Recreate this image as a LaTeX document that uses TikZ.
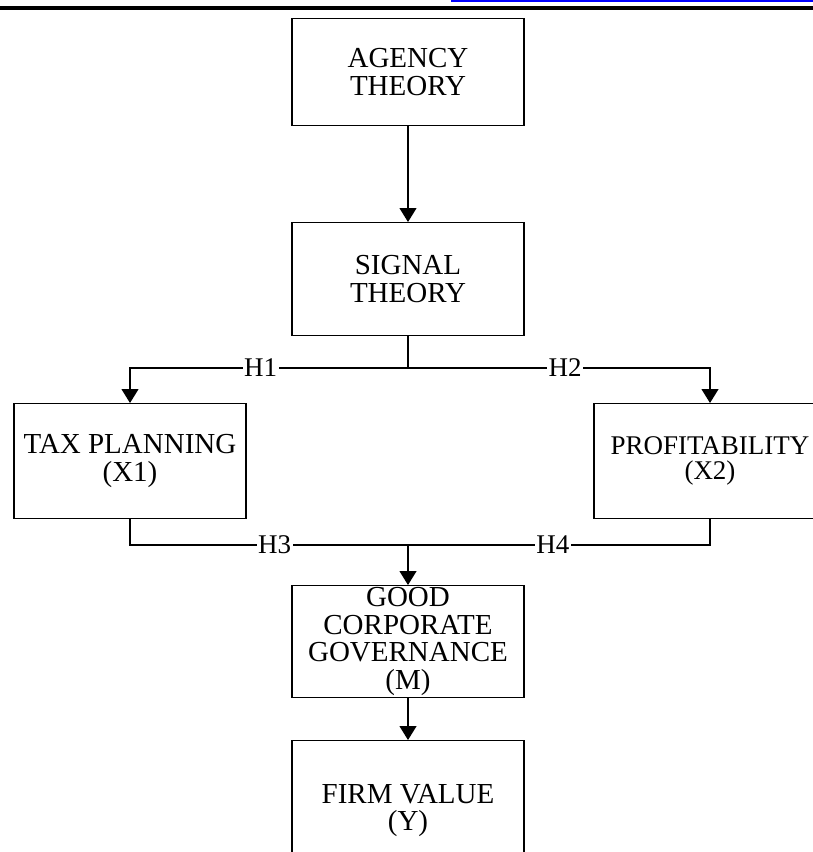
\documentclass[tikz,border=0pt]{standalone}
\usepackage{fontspec}
\setmainfont{Liberation Serif}
\usetikzlibrary{arrows.meta}

\begin{document}
\begin{tikzpicture}[x=1pt,y=-1pt,line width=1.2pt,>={Triangle[length=14pt,width=17pt]},
  box/.style={draw,minimum width=232pt,inner sep=0pt,anchor=north,align=center,
    font=\fontsize{29}{27.5}\selectfont},
  hlab/.style={fill=white,inner sep=1.5pt,font=\fontsize{27}{27}\selectfont}]
% page frame (top rule and cut-off link)
\useasboundingbox (0,0) rectangle (813,852);
\clip (0,0) rectangle (813,852);
\draw[line width=3.5pt] (0,8) -- (813,8);
\draw[blue,line width=1.5pt] (451,1) -- (813,1);
% theory boxes
\node[box,minimum height=107pt] (agency) at (408,18) {AGENCY\\THEORY};
\node[box,minimum height=113pt] (signal) at (408,222) {SIGNAL\\THEORY};
% variables
\node[box,minimum height=115pt] (tax) at (130,403) {TAX PLANNING\\(X1)};
\node[box,minimum height=115pt,font=\fontsize{27}{25}\selectfont] (profit) at (710,403) {PROFITABILITY\\(X2)};
\node[box,minimum height=112pt] (good) at (408,585) {GOOD\\CORPORATE\\GOVERNANCE\\(M)};
\node[box,minimum height=140pt] (firm) at (408,740) {FIRM VALUE\\(Y)};
% connectors
\coordinate (split) at (408,368);
\coordinate (merge) at (408,545);
\draw[->] (agency) -- (signal);
\draw (signal) -- (split);
\draw[->] (split) -- node[hlab,pos=.53]{H1} (split -| tax) -- (tax);
\draw[->] (split) -- node[hlab,pos=.52]{H2} (split -| profit) -- (profit);
\draw (tax) -- (tax |- merge) -- node[hlab,pos=.52]{H3} (merge);
\draw (profit) -- (profit |- merge) -- node[hlab,pos=.52]{H4} (merge);
\draw[->] (merge) -- (good);
\draw[->] (good) -- (firm);
\end{tikzpicture}
\end{document}
